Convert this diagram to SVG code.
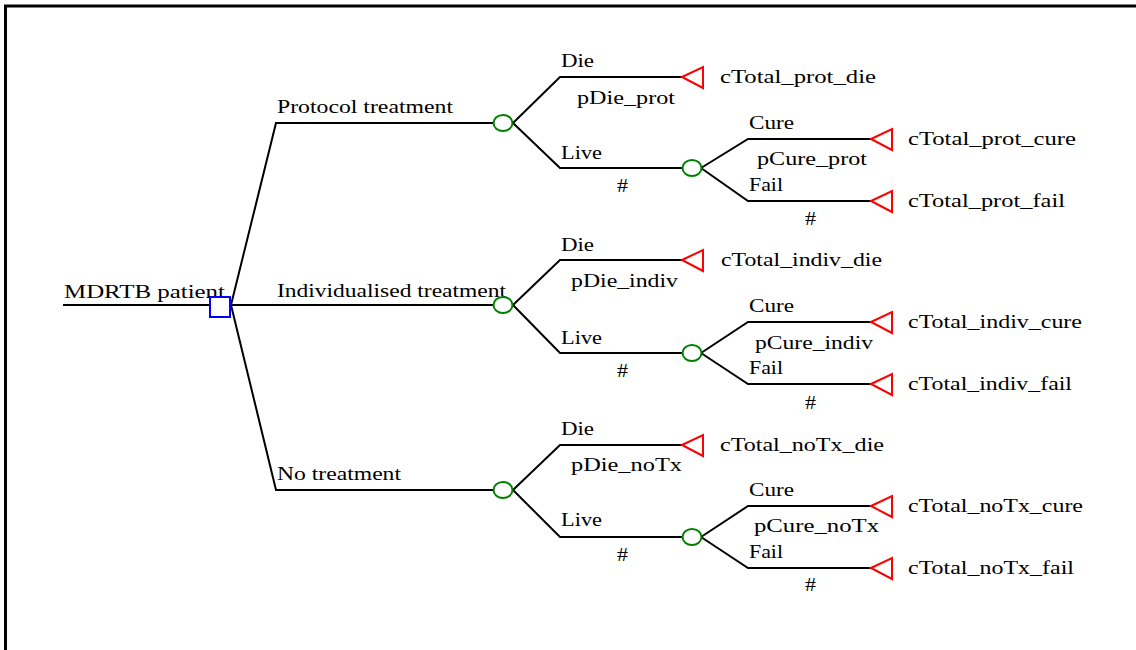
<svg xmlns="http://www.w3.org/2000/svg" width="1136" height="650" viewBox="0 0 1136 650">
<style>
.bd{fill:none;stroke:#000;stroke-width:3}
.ln{fill:none;stroke:#000;stroke-width:2}
.dec{fill:none;stroke:#0000ff;stroke-width:2}
.ch{fill:#fff;stroke:#008000;stroke-width:2}
.tm{fill:#fff;stroke:#ff0000;stroke-width:2}
text{font-family:"Liberation Serif","Times New Roman",serif;font-size:19px;fill:#000}
</style>
<rect class="bd" x="5.5" y="6" width="1140" height="660"/>
<g id="connectors">
<polyline class="ln" points="63,305 210,305"/>
<polyline class="ln" points="231,305 276,123 494,123"/>
<polyline class="ln" points="231,305 494,305"/>
<polyline class="ln" points="231,305 276,490 494,490"/>
<polyline class="ln" points="513,123 560,77 682,77"/>
<polyline class="ln" points="513,123 560,168 683,168"/>
<polyline class="ln" points="701,168 748,139 871,139"/>
<polyline class="ln" points="701,168 748,201 871,201"/>
<polyline class="ln" points="513,305 560,260 682,260"/>
<polyline class="ln" points="513,305 560,353 683,353"/>
<polyline class="ln" points="701,353 748,322 871,322"/>
<polyline class="ln" points="701,353 748,384 871,384"/>
<polyline class="ln" points="513,490 560,445 682,445"/>
<polyline class="ln" points="513,490 560,537 683,537"/>
<polyline class="ln" points="701,537 748,506 871,506"/>
<polyline class="ln" points="701,537 748,568 871,568"/>
<text x="64" y="298" textLength="161" lengthAdjust="spacingAndGlyphs">MDRTB patient</text>
<text x="277" y="113" textLength="176" lengthAdjust="spacingAndGlyphs">Protocol treatment</text>
<text x="277" y="297" textLength="229" lengthAdjust="spacingAndGlyphs">Individualised treatment</text>
<text x="277" y="480" textLength="124" lengthAdjust="spacingAndGlyphs">No treatment</text>
<text x="561" y="67" textLength="33" lengthAdjust="spacingAndGlyphs">Die</text>
<text x="577" y="104" textLength="98" lengthAdjust="spacingAndGlyphs">pDie_prot</text>
<text x="561" y="159" textLength="41" lengthAdjust="spacingAndGlyphs">Live</text>
<text x="617" y="192" textLength="11" lengthAdjust="spacingAndGlyphs">#</text>
<text x="749" y="129" textLength="45" lengthAdjust="spacingAndGlyphs">Cure</text>
<text x="757" y="165" textLength="110" lengthAdjust="spacingAndGlyphs">pCure_prot</text>
<text x="749" y="191" textLength="34" lengthAdjust="spacingAndGlyphs">Fail</text>
<text x="805" y="225" textLength="11" lengthAdjust="spacingAndGlyphs">#</text>
<text x="561" y="251" textLength="33" lengthAdjust="spacingAndGlyphs">Die</text>
<text x="571" y="287" textLength="107" lengthAdjust="spacingAndGlyphs">pDie_indiv</text>
<text x="561" y="344" textLength="41" lengthAdjust="spacingAndGlyphs">Live</text>
<text x="617" y="377" textLength="11" lengthAdjust="spacingAndGlyphs">#</text>
<text x="749" y="312" textLength="45" lengthAdjust="spacingAndGlyphs">Cure</text>
<text x="755" y="349" textLength="118" lengthAdjust="spacingAndGlyphs">pCure_indiv</text>
<text x="749" y="374" textLength="34" lengthAdjust="spacingAndGlyphs">Fail</text>
<text x="805" y="409" textLength="11" lengthAdjust="spacingAndGlyphs">#</text>
<text x="561" y="435" textLength="33" lengthAdjust="spacingAndGlyphs">Die</text>
<text x="571" y="471" textLength="111" lengthAdjust="spacingAndGlyphs">pDie_noTx</text>
<text x="561" y="526" textLength="41" lengthAdjust="spacingAndGlyphs">Live</text>
<text x="617" y="561" textLength="11" lengthAdjust="spacingAndGlyphs">#</text>
<text x="749" y="496" textLength="45" lengthAdjust="spacingAndGlyphs">Cure</text>
<text x="754" y="532" textLength="125" lengthAdjust="spacingAndGlyphs">pCure_noTx</text>
<text x="749" y="558" textLength="34" lengthAdjust="spacingAndGlyphs">Fail</text>
<text x="805" y="591" textLength="11" lengthAdjust="spacingAndGlyphs">#</text>
</g>
<g id="root"><rect class="dec" x="210" y="297" width="20" height="20"/></g>
<g id="chance_prot"><ellipse class="ch" cx="503" cy="123" rx="9.5" ry="8"/></g>
<g id="chance_prot_live"><ellipse class="ch" cx="692" cy="168" rx="9.5" ry="8"/></g>
<g id="chance_indiv"><ellipse class="ch" cx="503" cy="305" rx="9.5" ry="8"/></g>
<g id="chance_indiv_live"><ellipse class="ch" cx="692" cy="353" rx="9.5" ry="8"/></g>
<g id="chance_noTx"><ellipse class="ch" cx="503" cy="490" rx="9.5" ry="8"/></g>
<g id="chance_noTx_live"><ellipse class="ch" cx="692" cy="537" rx="9.5" ry="8"/></g>
<g id="term_prot_die"><polygon class="tm" points="682,77 703,67 703,88"/><text x="720" y="83" textLength="156" lengthAdjust="spacingAndGlyphs">cTotal_prot_die</text></g>
<g id="term_prot_cure"><polygon class="tm" points="871,139 892,129 892,150"/><text x="908" y="145" textLength="168" lengthAdjust="spacingAndGlyphs">cTotal_prot_cure</text></g>
<g id="term_prot_fail"><polygon class="tm" points="871,201 892,191 892,212"/><text x="908" y="207" textLength="157" lengthAdjust="spacingAndGlyphs">cTotal_prot_fail</text></g>
<g id="term_indiv_die"><polygon class="tm" points="682,260 703,250 703,271"/><text x="721" y="266" textLength="161" lengthAdjust="spacingAndGlyphs">cTotal_indiv_die</text></g>
<g id="term_indiv_cure"><polygon class="tm" points="871,322 892,312 892,333"/><text x="908" y="328" textLength="174" lengthAdjust="spacingAndGlyphs">cTotal_indiv_cure</text></g>
<g id="term_indiv_fail"><polygon class="tm" points="871,384 892,374 892,395"/><text x="908" y="390" textLength="164" lengthAdjust="spacingAndGlyphs">cTotal_indiv_fail</text></g>
<g id="term_noTx_die"><polygon class="tm" points="682,445 703,435 703,456"/><text x="720" y="451" textLength="164" lengthAdjust="spacingAndGlyphs">cTotal_noTx_die</text></g>
<g id="term_noTx_cure"><polygon class="tm" points="871,506 892,496 892,517"/><text x="908" y="512" textLength="175" lengthAdjust="spacingAndGlyphs">cTotal_noTx_cure</text></g>
<g id="term_noTx_fail"><polygon class="tm" points="871,568 892,558 892,579"/><text x="908" y="574" textLength="166" lengthAdjust="spacingAndGlyphs">cTotal_noTx_fail</text></g>
</svg>
